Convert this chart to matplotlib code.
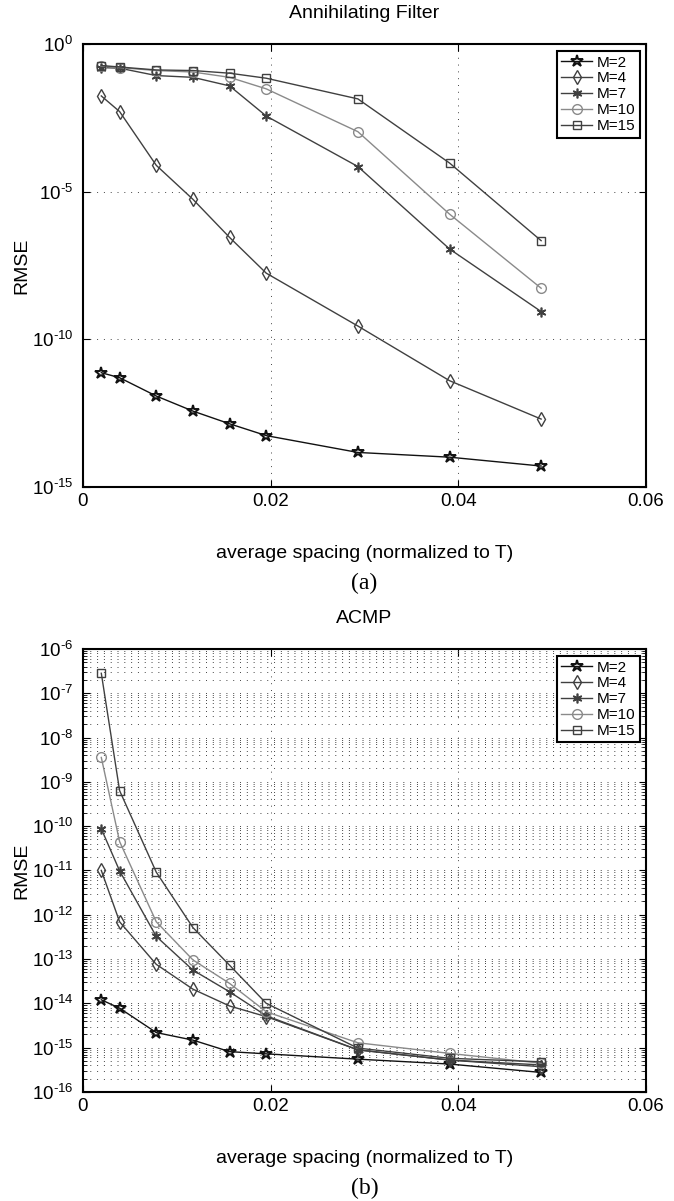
import matplotlib
matplotlib.use("Agg")
import matplotlib.pyplot as plt
import matplotlib.ticker as mticker
import numpy as np

plt.rcParams["font.family"] = "Liberation Sans"
plt.rcParams["mathtext.default"] = "regular"

# average spacing (normalized to T)
spacing = np.array([1, 2, 4, 6, 8, 10, 15, 20, 25]) / 512.0

labels = ["M=2", "M=4", "M=7", "M=10", "M=15"]

# log10(RMSE), annihilating filter
af_m2 = [-11.13, -11.30, -11.92, -12.43, -12.86, -13.26, -13.83, -13.99, -14.29]
af_m4 = [-1.76, -2.29, -4.11, -5.26, -6.55, -7.76, -9.55, -11.40, -12.70]
af_m7 = [-0.80, -0.82, -1.07, -1.13, -1.42, -2.44, -4.15, -6.94, -9.06]
af_m10 = [-0.75, -0.80, -0.90, -0.95, -1.13, -1.52, -2.97, -5.76, -8.27]
af_m15 = [-0.73, -0.78, -0.88, -0.90, -0.99, -1.16, -1.86, -4.03, -6.66]

# log10(RMSE), ACMP
acmp_m2 = [-13.92, -14.11, -14.66, -14.83, -15.09, -15.14, -15.26, -15.37, -15.56]
acmp_m4 = [-11.00, -12.16, -13.12, -13.68, -14.06, -14.30, -15.05, -15.28, -15.43]
acmp_m7 = [-10.06, -11.01, -12.49, -13.25, -13.74, -14.28, -15.05, -15.28, -15.39]
acmp_m10 = [-8.45, -10.35, -12.16, -13.02, -13.55, -14.19, -14.89, -15.13, -15.35]
acmp_m15 = [-6.55, -9.20, -11.04, -12.29, -13.14, -14.00, -15.01, -15.24, -15.32]

styles = [
    dict(marker="*", color="#111111", ms=9, mew=1.4),
    dict(marker="d", color="#404040", ms=7, mew=1.0),
    dict(marker=(6, 2, 0), color="#404040", ms=7, mew=1.2),
    dict(marker="o", color="#8a8a8a", ms=7, mew=1.0),
    dict(marker="s", color="#404040", ms=6, mew=1.0),
]

fig = plt.figure(figsize=(6.74, 12.01), dpi=100)
ax1 = fig.add_axes([0.1231, 0.5945, 0.8353, 0.3689])
ax2 = fig.add_axes([0.1231, 0.0908, 0.8353, 0.3689])

dots = (0, (1, 6))


def draw(ax, series, title, ylo, yhi, step, tag, minor):
    for vals, lab, st in zip(series, labels, styles):
        ax.semilogy(spacing, 10.0 ** np.array(vals), label=lab, lw=1.0,
                    marker=st["marker"], ms=st["ms"], color=st["color"],
                    mfc="none", mec=st["color"], mew=st["mew"])
    ax.set_xlim(0, 0.06)
    ax.set_ylim(10.0 ** ylo, 10.0 ** yhi)
    ax.set_xticks([0, 0.02, 0.04, 0.06])
    ax.set_xticklabels(["0", "0.02", "0.04", "0.06"])
    exps = list(range(ylo, yhi + 1, step))
    ax.set_yticks([10.0 ** e for e in exps])
    ax.set_yticklabels(["$10^{%s}$" % str(e).replace("-", "\u2010") for e in exps])
    if minor:
        ax.yaxis.set_minor_locator(mticker.LogLocator(base=10, subs=np.arange(2, 10), numticks=50))
        ax.yaxis.set_minor_formatter(mticker.NullFormatter())
        ax.grid(True, which="minor", axis="y", ls=dots, color="#444444", lw=0.7)
    else:
        ax.yaxis.set_minor_locator(mticker.NullLocator())
    ax.grid(True, which="major", ls=dots, color="#444444", lw=0.7)
    ax.tick_params(which="both", direction="in", top=True, right=True, labelsize=13.5)
    ax.tick_params(axis="y", pad=7)
    ax.tick_params(axis="x", pad=4)
    ax.tick_params(which="major", length=5)
    ax.tick_params(which="minor", length=3)
    for s in ax.spines.values():
        s.set_linewidth(1.5)
    ax.set_title(title, fontsize=14, y=1.04)
    ax.set_ylabel("RMSE", fontsize=14)
    ax.yaxis.set_label_coords(-0.094, 0.5)
    ax.set_xlabel("average spacing (normalized to T)", fontsize=14)
    ax.xaxis.set_label_coords(0.5, -0.131)
    ax.text(0.5, -0.217, tag, transform=ax.transAxes, ha="center", va="center",
            fontsize=17, family="Liberation Serif")
    leg = ax.legend(loc="upper right", bbox_to_anchor=(0.989, 0.984), borderaxespad=0,
                    fontsize=11, handlelength=2.0, labelspacing=0.12, borderpad=0.3,
                    handletextpad=0.3, fancybox=False, framealpha=1)
    leg.get_frame().set_edgecolor("black")
    leg.get_frame().set_linewidth(1.5)


draw(ax1, [af_m2, af_m4, af_m7, af_m10, af_m15], "Annihilating Filter", -15, 0, 5, "(a)", False)
draw(ax2, [acmp_m2, acmp_m4, acmp_m7, acmp_m10, acmp_m15], "ACMP", -16, -6, 1, "(b)", True)

plt.savefig("out.png", dpi=100)
